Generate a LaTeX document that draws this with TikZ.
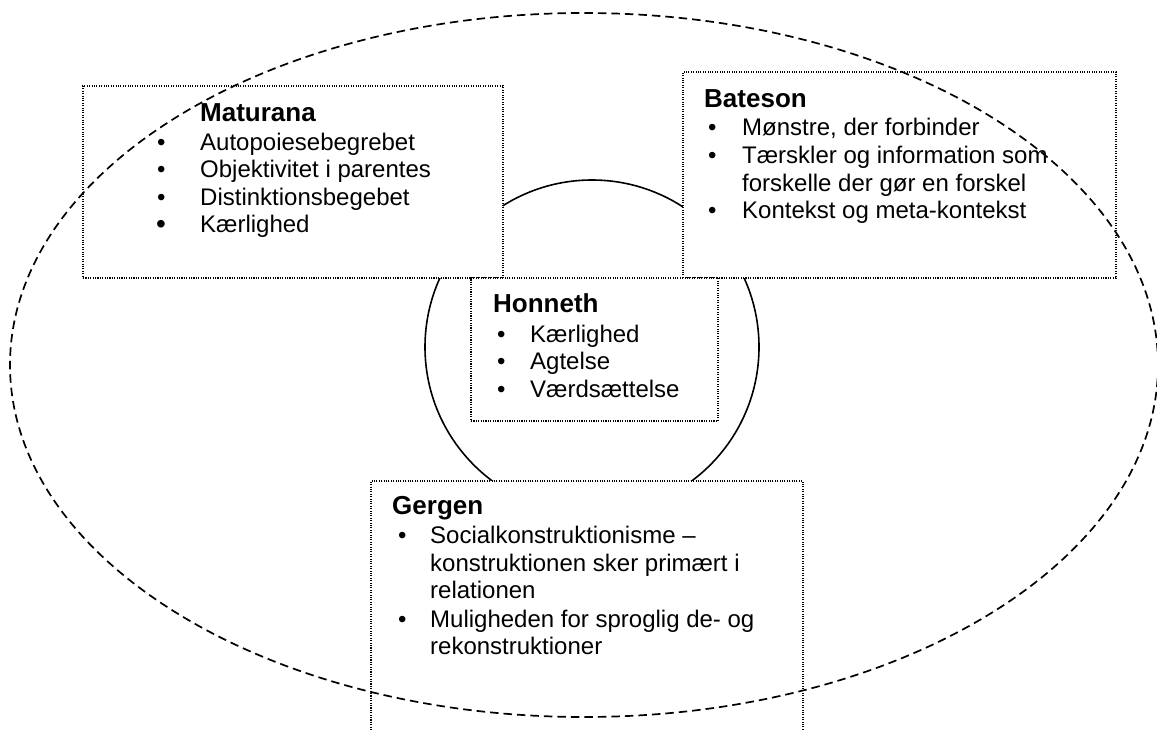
\documentclass[tikz,border=0pt]{standalone}
\usepackage{fontspec}
\setmainfont{Liberation Sans}
\usetikzlibrary{shapes.geometric}
\begin{document}
\begin{tikzpicture}[x=1pt,y=1pt,
  box/.style={draw, fill=white, line width=1.1pt, dash pattern=on 1.1pt off 1.3pt, inner sep=0pt},
  txt/.style={anchor=base west, inner sep=0pt, font=\fontsize{24}{27.5}\selectfont},
  bigbul/.style={anchor=base west, inner sep=0pt, font=\fontsize{28}{30}\selectfont},
  ttl/.style={anchor=base west, inner sep=0pt, font=\fontsize{26}{30}\selectfont\bfseries},
  ring/.style={draw, line width=1.6pt},
  outer/.style={draw, line width=1.7pt, dash pattern=on 8.5pt off 5pt}]
\useasboundingbox (0,0) rectangle (1157,-731);
% circle (behind boxes)
\node[ring, circle, minimum size=334pt, inner sep=0pt] (ring) at (592,-347) {};
% boxes
\node[box, minimum width=420pt, minimum height=192pt] (matbox) at (293,-182) {};
\node[box, minimum width=433pt, minimum height=206pt] (batbox) at (899.5,-175) {};
\node[box, minimum width=247pt, minimum height=143pt] (honbox) at (594.5,-349.5) {};
\node[box, minimum width=432pt, minimum height=280pt] (gerbox) at (587,-621) {};
% Maturana
\node[ttl] (matt) at (200,-121) {Maturana};
\node[txt] (mb1) at (157,-150) {•}; \node[txt] (m1) at (200,-150) {Autopoiesebegrebet};
\node[txt] (mb2) at (157,-177) {•}; \node[txt] (m2) at (200,-177) {Objektivitet i parentes};
\node[txt] (mb3) at (157,-205) {•}; \node[txt] (m3) at (200,-205) {Distinktionsbegebet};
\node[bigbul] (mb4) at (156,-233) {•}; \node[txt] (m4) at (200,-232) {Kærlighed};
% Bateson
\node[ttl] (batt) at (704,-107) {Bateson};
\node[txt] (bb1) at (708,-135) {•}; \node[txt] (b1) at (742,-135) {Mønstre, der forbinder};
\node[txt] (bb2) at (708,-163) {•}; \node[txt] (b2) at (742,-163) {Tærskler og information som};
\node[txt] (b3) at (742,-191) {forskelle der gør en forskel};
\node[txt] (bb4) at (708,-218) {•}; \node[txt] (b4) at (742,-218) {Kontekst og meta-kontekst};
% Honneth
\node[ttl] (hont) at (493,-312) {Honneth};
\node[txt] (hb1) at (497,-342) {•}; \node[txt] (h1) at (530,-342) {Kærlighed};
\node[txt] (hb2) at (497,-369) {•}; \node[txt] (h2) at (530,-369) {Agtelse};
\node[txt] (hb3) at (497,-397) {•}; \node[txt] (h3) at (530,-397) {Værdsættelse};
% Gergen
\node[ttl] (gert) at (392,-514) {Gergen};
\node[txt] (gb1) at (398,-543) {•}; \node[txt] (g1) at (430,-543) {Socialkonstruktionisme –};
\node[txt] (g2) at (430,-571) {konstruktionen sker primært i};
\node[txt] (g3) at (430,-598) {relationen};
\node[txt] (gb4) at (398,-627) {•}; \node[txt] (g4) at (430,-627) {Muligheden for sproglig de- og};
\node[txt] (g5) at (430,-654) {rekonstruktioner};
% dashed ellipse on top
\node[outer, ellipse, minimum width=1148pt, minimum height=704pt, inner sep=0pt] (env) at (584,-365) {};
\end{tikzpicture}
\end{document}
